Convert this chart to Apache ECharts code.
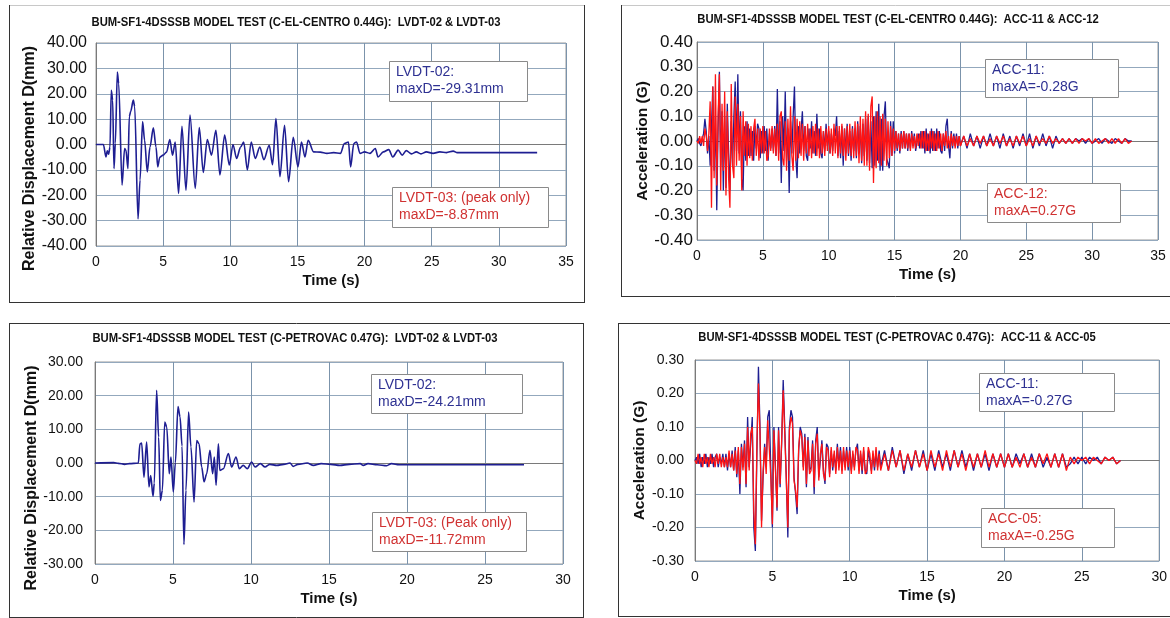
<!DOCTYPE html>
<html><head><meta charset="utf-8">
<script src="https://cdn.jsdelivr.net/npm/echarts@6/dist/echarts.min.js"></script>
<style>html,body{margin:0;padding:0;background:#fff}#c{width:1170px;height:618px}</style>
</head><body><div id="c"></div>
<script>
// ---------- DATA ----------
// El-Centro, LVDT-02 relative displacement (mm): [time s, value]
const centroDispLVDT02 = [[0,0],[0.55,0],[0.74,-4.9],[0.84,-2.5],[0.94,-3.8],[1.04,-1],[1.14,21.4],[1.24,17.5],[1.34,-9.5],[1.44,0.5],[1.59,28.6],[1.69,24],[1.94,-16],[2.13,-1.6],[2.23,-2.3],[2.38,-9.5],[2.48,11],[2.58,13],[2.78,17.5],[2.88,15],[3.13,-29.3],[3.28,-14],[3.47,9],[3.62,1.7],[3.82,-10.8],[4.02,-1],[4.27,6.6],[4.47,-1],[4.6,-8.8],[4.75,-5],[5.0,-4.2],[5.25,-3],[5.5,2],[5.7,-4.2],[5.9,1],[6.15,-19.3],[6.4,7.2],[6.7,-18],[7.0,11.6],[7.39,-17.3],[7.69,6.7],[7.99,-11],[8.29,2],[8.6,-4.2],[8.93,5.6],[9.23,-12],[9.58,3.7],[9.93,-8.1],[10.2,0],[10.47,-5.5],[10.77,-1],[11.0,1],[11.27,-10],[11.56,1],[11.86,-5.5],[12.2,-1],[12.5,-6],[12.9,-0.3],[13.15,-8],[13.4,10.2],[13.7,-12.7],[14.04,7.6],[14.34,-14.7],[14.69,2.8],[15.04,-8.8],[15.3,1],[15.56,-4.9],[15.8,1.7],[16.2,-2.9],[16.7,-3],[17.2,-3.5],[17.7,-3.2],[18.2,-3.5],[18.5,0.4],[18.8,1],[18.96,-8.8],[19.2,0.4],[19.4,1],[19.66,-3.5],[20.0,-2.9],[20.4,-3.5],[20.8,-1.6],[21.0,-4.9],[21.4,-2.9],[21.8,-2],[22.1,-4.9],[22.5,-2.2],[22.8,-4.2],[23.1,-2.4],[23.5,-3.7],[23.85,-2.9],[24.2,-3.7],[24.6,-2.9],[25.1,-3.5],[25.6,-2.9],[26.1,-3.2],[26.6,-2.6],[26.9,-3.2],[27.1,-3.2],[30,-3.2],[32.85,-3.2]];

// Petrovac, LVDT-02 relative displacement (mm): [time s, value]
const petrovacDispLVDT02 = [[0,0],[1.2,0.1],[1.5,-0.1],[1.9,-0.4],[2.2,-0.2],[2.78,0],[2.88,5.7],[2.99,5.9],[3.14,-4.2],[3.31,6.2],[3.46,-7.1],[3.57,-3.7],[3.72,-9.9],[3.8,-6],[3.95,21.6],[4.08,7.7],[4.19,-11.1],[4.32,-8.1],[4.47,12.2],[4.6,10.7],[4.76,-3.2],[4.87,1.8],[5.02,-8.6],[5.15,0],[5.32,16.8],[5.45,13.7],[5.58,5],[5.7,-24.2],[5.83,-8.1],[6.0,15.1],[6.15,4.8],[6.35,-11.6],[6.52,6.7],[6.67,5.7],[6.84,-1.2],[6.99,-5.6],[7.16,-3.2],[7.37,3.8],[7.54,-3.2],[7.65,1.8],[7.76,-6.6],[7.91,5.7],[8.0,-2.2],[8.23,-1.7],[8.55,2.8],[8.76,-1.2],[9.04,1.8],[9.25,-1.7],[9.5,-0.7],[9.76,-1.7],[10.04,0.3],[10.26,-1.2],[10.6,-0.2],[10.9,-1.2],[11.2,-0.4],[11.65,-0.7],[12.1,-0.4],[12.5,0],[12.7,-1],[13.0,-0.4],[13.6,0],[14.0,-0.7],[14.5,-0.2],[15.1,-0.4],[15.7,-0.7],[16.3,-0.4],[17.0,-0.2],[17.2,-0.7],[17.5,-0.2],[18.1,-0.5],[18.7,-0.8],[19.0,-0.2],[19.5,-0.5],[27.5,-0.5]];

// Acceleration records (G), sampled every MAIN_DT from t=0, then every TAIL_DT
const MAIN_DT = 0.1, TAIL_DT = 0.25;
const centroTailStart = 20.25, petrovacTailStart = 12.25;

const centroAcc11Main = [
 0,.01,-.01,-.02,.01,.03,.09,.04,-.05,.02,
 -.1,.06,.22,-.12,.1,-.28,.05,.28,-.1,.12,
 -.2,.1,-.19,.15,-.05,-.2,.08,-.1,.1,.24,
 -.04,.27,-.05,.12,-.15,-.2,.06,-.08,.08,-.06,
 .05,-.06,.04,-.08,.06,-.03,.07,.05,-.07,.04,
 -.05,.06,-.04,.05,-.08,.03,-.03,.05,-.04,.06,
 -.06,.21,-.05,.08,-.17,.1,-.04,.2,-.08,.05,
 -.21,.08,-.05,.1,.22,-.07,-.15,.06,-.05,.04,
 .12,-.04,.06,-.06,-.08,.05,-.03,.08,-.05,.04,
 -.06,.11,-.03,.05,-.05,-.07,.04,-.04,.07,-.02,
 .04,-.05,.03,-.04,.05,.02,.1,-.06,.04,-.07,
 .06,-.1,.05,-.05,.07,-.06,.04,-.08,.06,-.04,
 .05,-.07,.08,-.05,.06,-.09,.07,-.06,.09,-.08,
 .1,-.09,.08,-.11,.1,-.1,.12,-.08,.15,-.12,
 .09,-.12,.1,.16,-.07,-.09,-.11,.08,-.06,.08,
 -.05,.04,-.04,.03,-.05,.04,-.03,.04,-.03,.03,
 -.04,.03,-.03,.04,-.02,.03,-.04,-.04,.03,-.03,
 .04,-.03,.04,-.05,.05,-.04,.03,-.05,.05,-.04,
 .04,-.04,.05,-.03,.04,-.04,-.05,.03,-.04,.06,
 .09,-.02,-.07,.04,-.03,.03,-.02,.03,-.03,.02,
 -.02];
const centroAcc11Tail = [
 .02,-.03,.03,-.02,.02,-.03,.02,-.02,
 .03,-.02,.02,-.03,.03,-.02,.02,-.03,
 .02,-.02,.03,-.02,.03,-.03,.02,-.02,
 .03,-.02,.02,-.03,.02,-.01,.01,-.01,
 .01,-.01,.01,0,.01,-.01,.01,-.01,
 0,.01,-.01,.01,0,-.01,.01,0,
 -.01,.01,0,0];

const centroAcc12Main = [
 0,-.01,.02,-.01,.02,-.02,.05,.02,-.04,.03,
 .16,-.27,.22,-.15,.27,-.18,.1,.27,-.2,.15,
 -.12,.2,-.22,.12,-.15,-.27,.23,-.1,-.15,.18,
 -.1,.15,-.08,.1,-.2,.12,-.06,.08,-.1,.07,
 -.07,.06,-.08,.05,.09,-.06,.05,-.08,.05,-.05,
 .06,-.05,.04,-.08,-.06,.05,-.04,.06,-.05,.05,
 -.06,.07,-.08,.1,.12,-.07,-.1,.08,-.12,.09,
 -.08,.14,-.06,-.12,.1,-.08,.09,-.07,.08,-.06,
 .07,-.08,.06,-.05,.07,-.06,.05,-.07,.06,-.05,
 .07,-.06,.05,-.07,.06,-.05,.04,-.06,.05,-.04,
 .06,-.05,.05,-.06,.07,-.05,.06,-.07,.06,-.05,
 .07,-.06,.05,-.08,.06,-.05,.07,-.06,.05,-.07,
 .08,-.06,.07,-.09,.1,-.08,.09,-.1,.12,-.1,
 .11,-.12,.14,.18,-.17,.1,-.11,.12,-.09,.1,
 -.1,.11,-.08,.09,-.1,.08,-.07,.06,-.06,.05,
 -.04,.04,-.03,.03,-.04,.03,-.03,.04,-.03,.03,
 -.03,.03,-.04,.03,-.03,.02,-.03,.03,-.02,.03,
 -.03,.04,-.03,.04,-.04,.03,-.04,.04,-.03,.04,
 -.04,.03,-.04,.04,-.03,.03,-.04,.03,-.02,.04,
 -.03,.02,-.03,.03,-.02,.02,-.03,.02,-.02,.02,
 -.02];
const centroAcc12Tail = [
 .02,-.02,.01,-.02,.02,-.01,.02,-.02,
 .01,-.02,.02,-.01,.02,-.02,.01,-.02,
 .02,-.01,.02,-.02,.01,-.02,.02,-.01,
 .01,-.01,.02,-.01,.01,-.01,.01,-.01,
 .01,-.01,.01,-.01,.01,0,.01,-.01,
 .01,-.01,0,.01,-.01,.01,-.01,.01,
 -.01,.01,-.01,0];

const petrovacAcc11Main = [
 0,.01,-.01,.02,-.02,.01,-.01,.02,-.02,.01,
 -.01,.02,-.02,.01,.02,-.02,.01,-.01,.02,-.02,
 .02,-.03,.02,-.02,.03,-.03,.04,-.05,.03,-.1,
 .05,-.02,.06,-.08,.13,-.02,.05,.13,-.2,-.27,
 .02,.28,.1,-.18,-.05,.05,-.02,.13,.15,-.03,
 -.2,.1,-.02,-.15,.1,-.08,.05,.24,.1,-.05,
 -.23,.1,.15,.13,-.05,-.1,-.16,.03,.1,.08,
 -.02,.08,-.08,.07,-.03,-.02,.06,-.1,.06,.1,
 -.05,0,.06,-.03,-.07,.05,.04,-.04,.03,-.03,
 .02,-.03,.05,-.02,.04,-.03,.03,-.02,.04,-.03,
 .04,-.03,.02,-.02,.03,.05,-.03,.02,-.04,.03,
 -.03,-.04,.03,.03,-.03,.02,-.03,.03,-.02,.03,
 -.02];
const petrovacAcc11Tail = [
 .03,-.03,.04,-.02,.03,-.04,.02,-.03,
 .03,-.02,.03,-.03,.02,-.03,.03,-.02,
 .02,-.03,.03,-.02,.03,-.02,.02,-.03,
 .02,-.02,.02,-.03,.02,-.02,.02,-.02,
 .02,-.02,.02,-.01,.02,-.02,.02,-.02,
 .02,-.02,.01,-.02,.02,-.02,.02,-.02,
 -.01,.01,-.01,.01,-.01,.01,0,.01,
 -.01,.01,0,.01,-.01,0];

const petrovacAcc05Main = [
 0,-.01,.02,-.01,.01,-.02,.02,-.01,.01,-.02,
 .02,-.01,.01,-.02,.02,-.01,.02,-.02,.01,-.02,
 .01,-.02,.03,-.02,.02,-.03,.03,-.04,.04,-.07,
 .04,-.03,.05,-.07,.1,-.03,.08,.1,-.15,-.25,
 .05,.23,.08,-.2,-.03,.04,-.04,.12,.12,-.05,
 -.19,.09,-.03,-.14,.09,-.07,.06,.21,.08,-.06,
 -.2,.09,.13,.11,-.06,-.09,-.14,.04,.09,.07,
 -.03,.07,-.07,.06,-.04,-.03,.05,-.08,.05,.08,
 -.06,.02,.05,-.04,-.06,.04,.03,-.05,.04,-.02,
 .03,-.04,.04,-.03,.03,-.04,.04,-.03,.03,-.02,
 .03,-.04,.03,-.03,.04,.03,-.04,.03,-.03,.04,
 -.04,-.03,.04,.02,-.04,.03,-.02,.04,-.03,.02,
 -.03];
const petrovacAcc05Tail = [
 .02,-.03,.03,-.02,.03,-.03,.02,-.02,
 .03,-.02,.02,-.03,.03,-.02,.02,-.03,
 .03,-.02,.03,-.02,.02,-.03,.02,-.02,
 .02,-.02,.03,-.02,.02,-.02,.02,-.02,
 .02,-.02,.01,-.02,.02,-.02,.01,-.02,
 .02,-.01,.02,-.02,.02,-.02,.02,-.03,
 .01,-.01,.01,0,.01,-.01,.01,0,
 -.01,.01,0,.01,-.01,0];

// axis ranges [min, max, interval]
const centroTimeAxis = [0, 35, 5], petrovacTimeAxis = [0, 30, 5];
const centroDispAxis = [-40, 40, 10], petrovacDispAxis = [-30, 30, 10];
const centroAccAxis = [-0.4, 0.4, 0.1], petrovacAccAxis = [-0.3, 0.3, 0.1];

const titles = [
 'BUM-SF1-4DSSSB MODEL TEST (C-EL-CENTRO 0.44G):  LVDT-02 & LVDT-03',
 'BUM-SF1-4DSSSB MODEL TEST (C-EL-CENTRO 0.44G):  ACC-11 & ACC-12',
 'BUM-SF1-4DSSSB MODEL TEST (C-PETROVAC 0.47G):  LVDT-02 & LVDT-03',
 'BUM-SF1-4DSSSB MODEL TEST (C-PETROVAC 0.47G):  ACC-11 & ACC-05'
];
const notes = [
 ['LVDT-02:\nmaxD=-29.31mm', 'LVDT-03: (peak only)\nmaxD=-8.87mm'],
 ['ACC-11:\nmaxA=-0.28G', 'ACC-12:\nmaxA=0.27G'],
 ['LVDT-02:\nmaxD=-24.21mm', 'LVDT-03: (Peak only)\nmaxD=-11.72mm'],
 ['ACC-11:\nmaxA=-0.27G', 'ACC-05:\nmaxA=-0.25G']
];

// ---------- BUILD ----------
function sampled(t0, dt, vals) { return vals.map((v, i) => [Math.round((t0 + i * dt) * 100) / 100, v]); }
const centroAcc11 = sampled(0, MAIN_DT, centroAcc11Main).concat(sampled(centroTailStart, TAIL_DT, centroAcc11Tail));
const centroAcc12 = sampled(0, MAIN_DT, centroAcc12Main).concat(sampled(centroTailStart, TAIL_DT, centroAcc12Tail));
const petrovacAcc11 = sampled(0, MAIN_DT, petrovacAcc11Main).concat(sampled(petrovacTailStart, TAIL_DT, petrovacAcc11Tail));
const petrovacAcc05 = sampled(0, MAIN_DT, petrovacAcc05Main).concat(sampled(petrovacTailStart, TAIL_DT, petrovacAcc05Tail));

const FONT = '"Liberation Sans", Arial, sans-serif';
const BLUE = '#1e1e92', RED = '#ff1414', TBLUE = '#2e3192', TRED = '#d03232';

const grids = [
 {left: 96, top: 43, width: 470, height: 203},
 {left: 697, top: 42, width: 461, height: 198},
 {left: 95, top: 362, width: 468, height: 202},
 {left: 695, top: 360, width: 465, height: 201}
];
const yNames = ['Relative Displacement D(mm)', 'Acceleration (G)', 'Relative Displacement D(mm)', 'Acceleration (G)'];
const yRanges = [centroDispAxis, centroAccAxis, petrovacDispAxis, petrovacAccAxis];
const xRanges = [centroTimeAxis, centroTimeAxis, petrovacTimeAxis, petrovacTimeAxis];
const yNameGap = [54, 45, 54, 46];
const yNameSize = [16, 15.5, 16, 15.5];
const yNamePad = [[0, 28, 0, 0], [0, 0, 0, 0], [0, 30, 0, 0], [0, 0, 0, 0]];
const yLabelMargin = [9, 4, 12, 11];
const yLabelSize = [16, 17, 14, 14];

function fmt2(v) { return Math.abs(v) < 1e-9 ? '0.00' : v.toFixed(2); }

const xAxis = grids.map((g, i) => ({
 gridIndex: i, type: 'value', min: xRanges[i][0], max: xRanges[i][1], interval: xRanges[i][2],
 axisLine: {show: true, lineStyle: {color: '#7a7a7a', width: 1}},
 axisTick: {show: false},
 axisLabel: {fontSize: 14, color: '#111', margin: 9, fontFamily: FONT},
 splitLine: {show: true, lineStyle: {color: '#7b93ab', width: 1}},
 name: 'Time (s)', nameLocation: 'middle', nameGap: 27,
 nameTextStyle: {fontSize: 15, fontWeight: 'bold', color: '#111', fontFamily: FONT}
}));
const yAxis = grids.map((g, i) => ({
 gridIndex: i, type: 'value', min: yRanges[i][0], max: yRanges[i][1], interval: yRanges[i][2],
 axisLine: {show: true, lineStyle: {color: '#7a7a7a', width: 1}},
 axisTick: {show: false},
 axisLabel: {fontSize: yLabelSize[i], color: '#111', margin: yLabelMargin[i], fontFamily: FONT, formatter: fmt2},
 splitLine: {show: true, lineStyle: {color: '#93a8bd', width: 1}},
 name: yNames[i], nameLocation: 'middle', nameGap: yNameGap[i], nameRotate: 90,
 nameTextStyle: {fontSize: yNameSize[i], fontWeight: 'bold', color: '#111', fontFamily: FONT, padding: yNamePad[i]}
}));

function line(i, data, color, width, smooth) {
 return {type: 'line', xAxisIndex: i, yAxisIndex: i, data: data, showSymbol: false, symbol: 'none',
  smooth: smooth || false, smoothMonotone: 'x', animation: false,
  lineStyle: {color: color, width: width}, itemStyle: {color: color}};
}
const series = [
 line(0, centroDispLVDT02, BLUE, 1.6, 0.3),
 line(1, centroAcc11, BLUE, 1.3),
 line(1, centroAcc12, RED, 1.3),
 line(2, petrovacDispLVDT02, BLUE, 1.6, 0.3),
 line(3, petrovacAcc11, BLUE, 1.3),
 line(3, petrovacAcc05, RED, 1.3)
];

// titles / notes / frames as graphic elements
const titlePos = [[296, 23], [898, 20], [295, 339], [897, 338]];
const noteBoxes = [
 [[389, 61, 138, 40], [392, 187, 156, 40]],
 [[985, 59, 133, 38], [987, 183, 133, 39]],
 [[371, 374, 151, 39], [372, 512, 154, 39]],
 [[979, 373, 135, 38], [981, 508, 133, 39]]
];
const graphic = [];
titles.forEach((t, i) => graphic.push({type: 'text', x: titlePos[i][0], y: titlePos[i][1], z: 10, scaleX: 0.9,
 style: {text: t, fill: '#111', font: 'bold 12.5px "Liberation Sans", Arial', align: 'center', verticalAlign: 'middle'}}));
noteBoxes.forEach((pair, i) => pair.forEach((b, j) => {
 graphic.push({type: 'rect', z: 20, shape: {x: b[0] + 0.5, y: b[1] + 0.5, width: b[2], height: b[3]},
  style: {fill: '#fff', stroke: '#8a8a8a', lineWidth: 1}});
 graphic.push({type: 'text', z: 21, x: b[0] + 7, y: b[1] + 3,
  style: {text: notes[i][j], fill: j === 0 ? TBLUE : TRED, font: '14px ' + FONT, lineHeight: 16.5, verticalAlign: 'top', align: 'left'}});
}));
const frameLines = [
 [[9.5, 5.5], [584.5, 5.5], '#c8c8c8'], [[9.5, 5], [9.5, 302.5], '#333'], [[584.5, 5], [584.5, 302.5], '#333'], [[9, 302.5], [585, 302.5], '#333'],
 [[621.5, 5.5], [1170, 5.5], '#c8c8c8'], [[621.5, 5], [621.5, 296.5], '#333'], [[621, 296.5], [1170, 296.5], '#333'],
 [[9, 323.5], [584, 323.5], '#333'], [[9.5, 323], [9.5, 617.5], '#333'], [[583.5, 323], [583.5, 617.5], '#333'], [[9, 617.5], [584, 617.5], '#333'],
 [[618, 323.5], [1170, 323.5], '#333'], [[618.5, 323], [618.5, 616.5], '#333'], [[618, 616.5], [1170, 616.5], '#333']
];
frameLines.forEach(l => graphic.push({type: 'line', z: 5, shape: {x1: l[0][0], y1: l[0][1], x2: l[1][0], y2: l[1][1]}, style: {stroke: l[2], lineWidth: 1}}));

const chart = echarts.init(document.getElementById('c'), null, {renderer: 'canvas'});
chart.setOption({
 animation: false, backgroundColor: '#fff',
 grid: grids.map(g => Object.assign({show: true, borderColor: '#9a9a9a', borderWidth: 1, backgroundColor: 'transparent'}, g)),
 xAxis: xAxis, yAxis: yAxis, series: series, graphic: graphic
});
</script></body></html>
